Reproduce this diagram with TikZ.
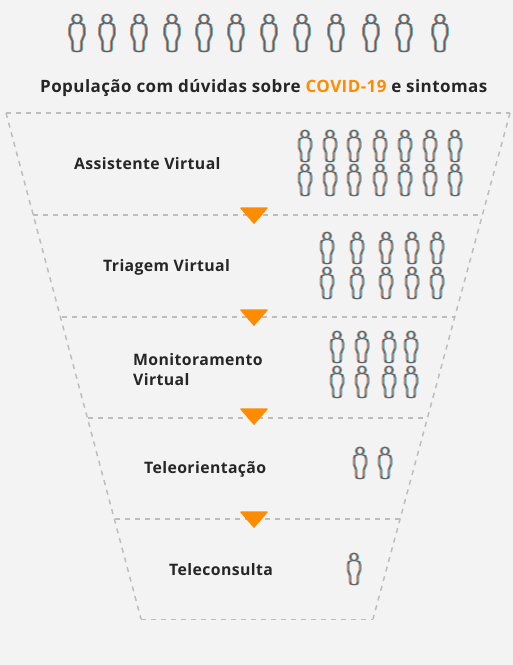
\documentclass[tikz,border=0pt]{standalone}
\usepackage{fontspec}
\setmainfont[LetterSpace=2.5]{Open Sans}
\definecolor{bgc}{HTML}{F3F3F3}
\definecolor{orng}{HTML}{FF8C00}
\definecolor{dashc}{HTML}{BDBDBD}
\definecolor{inkc}{HTML}{262626}
\definecolor{figc}{HTML}{5F5F66}
\definecolor{figo}{HTML}{E08A50}
\definecolor{figb}{HTML}{4FB4E6}
\tikzset{
  x=1pt,y=-1pt,
  funnel/.style={draw=dashc,line width=1.5pt,dash pattern=on 5pt off 5pt},
  funnelthin/.style={draw=dashc,line width=1pt,dash pattern=on 5pt off 5pt},
  label/.style={font=\bfseries\fontsize{15.8}{18}\selectfont,text=inkc,inner sep=0pt,align=left},
  titlelabel/.style={font=\bfseries\fontsize{17}{20}\selectfont,text=inkc,inner sep=0pt},
  marker/.style={fill=orng,draw=orng,line width=1.5pt,line join=round},
  pics/person/.style={code={
    \foreach \dx/\col in {-1/figo,1/figb,0/figc}{
      \begin{scope}[xshift=\dx pt,draw=\col,line width=1pt]
        \draw (0,-12) circle[radius=3.8];
        \draw (-2.5,-8.2) .. controls (-5,-8) and (-6,-7) .. (-6,-4.5) -- (-6,1.5)
          .. controls (-6,4) and (-3.8,4) .. (-3.8,7) -- (-3.8,13)
          .. controls (-3.8,15) and (-3,15.5) .. (-1.5,15.5) -- (1.5,15.5)
          .. controls (3,15.5) and (3.8,15) .. (3.8,13) -- (3.8,7)
          .. controls (3.8,4) and (6,4) .. (6,1.5) -- (6,-4.5)
          .. controls (6,-7) and (5,-8) .. (2.5,-8.2);
      \end{scope}
    }
  }},
  pics/bigperson/.style={code={
    \foreach \dx/\col in {-1/figo,1/figb,0/figc}{
      \begin{scope}[xshift=\dx pt,draw=\col,line width=1.2pt]
        \draw (0,-14) circle[radius=4.6];
        \draw (-3,-9.6) .. controls (-6,-9.4) and (-7.2,-8.2) .. (-7.2,-5.2) -- (-7.2,2)
          .. controls (-7.2,5) and (-4.5,5) .. (-4.5,8.4) -- (-4.5,15.5)
          .. controls (-4.5,17.8) and (-3.6,18.4) .. (-1.8,18.4) -- (1.8,18.4)
          .. controls (3.6,18.4) and (4.5,17.8) .. (4.5,15.5) -- (4.5,8.4)
          .. controls (4.5,5) and (7.2,5) .. (7.2,2) -- (7.2,-5.2)
          .. controls (7.2,-8.2) and (6,-9.4) .. (3,-9.6);
      \end{scope}
    }
  }}
}
\begin{document}
\begin{tikzpicture}
\path[fill=bgc] (0,0) rectangle (513,665);
\useasboundingbox (0,0) rectangle (513,665);

\foreach \px in {77,107,139,172,204,236,269,302,336,371,404,440}
  \pic at (\px,33) {bigperson};

\node[titlelabel,anchor=base west] (title) at (40,92) {População com dúvidas sobre \textcolor{orng}{COVID-19} e sintomas};

% funnel
\coordinate (tl) at (6,113);
\coordinate (tr) at (510,113);
\coordinate (bl) at (141,619);
\coordinate (br) at (373,619);
\draw[funnel] (tl) -- (tr);
\draw[funnel] (tl) -- (bl);
\draw[funnel] (tr) -- (br);
\draw[funnelthin] (bl) -- (br);
\draw[funnel] (33,215) -- (480,215);
\draw[funnel] (62,317) -- (455,317);
\draw[funnel] (88,418) -- (428,418);
\draw[funnel] (115,519) -- (400,519);

% markers
\foreach \ty in {208,310,409,512}
  \draw[marker] (241,\ty) -- (267,\ty) -- (254,\ty+15) -- cycle;

% labels
\node[label,anchor=base west] (s1) at (74,169) {Assistente Virtual};
\node[label,anchor=base west] (s2) at (103,271) {Triagem Virtual};
\node[label,anchor=base west] (s3a) at (133,365) {Monitoramento};
\node[label,anchor=base west] (s3b) at (133,385) {Virtual};
\node[label,anchor=base west] (s4) at (144,473) {Teleorientação};
\node[label,anchor=base west] (s5) at (169,575) {Teleconsulta};

% people
\foreach \px in {305,330,354,380,405,430,455}{
  \pic at (\px,146) {person};
  \pic at (\px,180) {person};
}
\foreach \px in {327,357,386,412,437}{
  \pic at (\px,248) {person};
  \pic at (\px,283) {person};
}
\foreach \px in {337,362,389,411}{
  \pic at (\px,347) {person};
  \pic at (\px,382) {person};
}
\foreach \px in {360,385}
  \pic at (\px,463) {person};
\pic at (354,569) {person};
\end{tikzpicture}
\end{document}
